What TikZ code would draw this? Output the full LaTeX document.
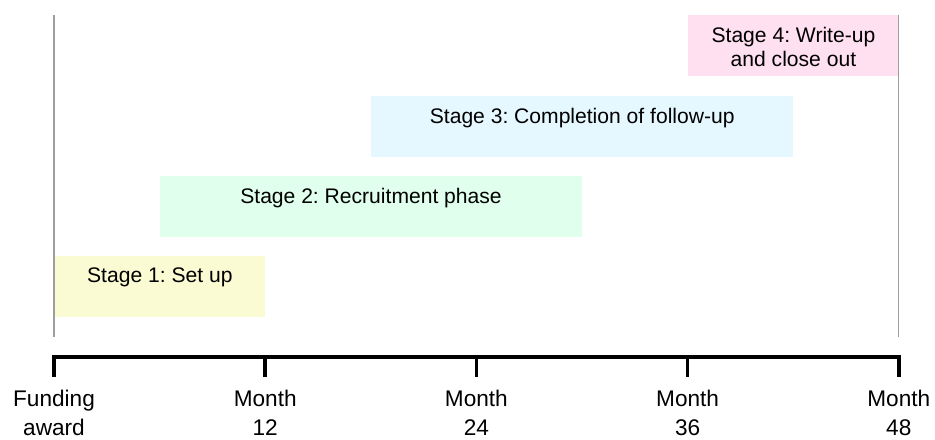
\documentclass[tikz,border=0pt]{standalone}
\usepackage{fontspec}
\setmainfont{Liberation Sans}
\usetikzlibrary{positioning}
\frenchspacing
\definecolor{setupfill}{RGB}{250,251,210}
\definecolor{recruitfill}{RGB}{224,255,236}
\definecolor{followfill}{RGB}{230,248,255}
\definecolor{closefill}{RGB}{255,224,240}
\tikzstyle{stagebox} = [rectangle, inner sep=0pt, minimum height=1.83cm, anchor=north west]
\tikzstyle{stagetext} = [inner sep=0pt, align=center, font=\fontsize{18}{20.4}\selectfont]
\tikzstyle{monthlabel} = [inner sep=0pt, align=center, font=\fontsize{19.3}{24.6}\selectfont]
\tikzstyle{guide} = [draw=black!38, line width=0.9pt]
\tikzstyle{axis} = [draw, line width=3pt, line join=miter]

\begin{document}
\begin{tikzpicture}[x=0.528cm, y=-0.03cm]
\useasboundingbox (-3.068,0) rectangle (50.057,440);
% the four stages
\node [stagebox, fill=setupfill, minimum width=6.336cm] (setup) at (0,256) {};
\node [stagebox, fill=recruitfill, minimum width=12.672cm] (recruit) at (6,176) {};
\node [stagebox, fill=followfill, minimum width=12.672cm] (follow) at (18,96) {};
\node [stagebox, fill=closefill, minimum width=6.336cm] (close) at (36,15) {};
\node [stagetext, below=0.36cm of setup.north] (setupText) {Stage 1: Set up};
\node [stagetext, below=0.36cm of recruit.north] (recruitText) {Stage 2: Recruitment phase};
\node [stagetext, below=0.36cm of follow.north] (followText) {Stage 3: Completion of follow-up};
\node [stagetext, below=0.36cm of close.north] (closeText) {Stage 4: Write-up\\and close out};
% start and end of the project
\coordinate (startTop) at (0,15);
\coordinate (startEnd) at (0,337);
\coordinate (finishTop) at (48,15);
\coordinate (finishEnd) at (48,337);
\path [guide] (startTop) -- (startEnd);
\path [guide] (finishTop) -- (finishEnd);
% time line
\foreach \m in {0,12,24,36,48} {
  \coordinate (axis\m) at (\m,357);
  \coordinate (tick\m) at (\m,377);
}
\path [axis] (tick0) -- (axis0) -- (axis48) -- (tick48);
\foreach \m in {12,24,36} \path [axis] (axis\m) -- (tick\m);
\foreach \m/\lab in {0/{Funding\\award}, 12/{Month\\12}, 24/{Month\\24}, 36/{Month\\36}, 48/{Month\\48}}
  \node [monthlabel, below=0.4cm of tick\m] (label\m) {\lab};
\end{tikzpicture}
\end{document}
